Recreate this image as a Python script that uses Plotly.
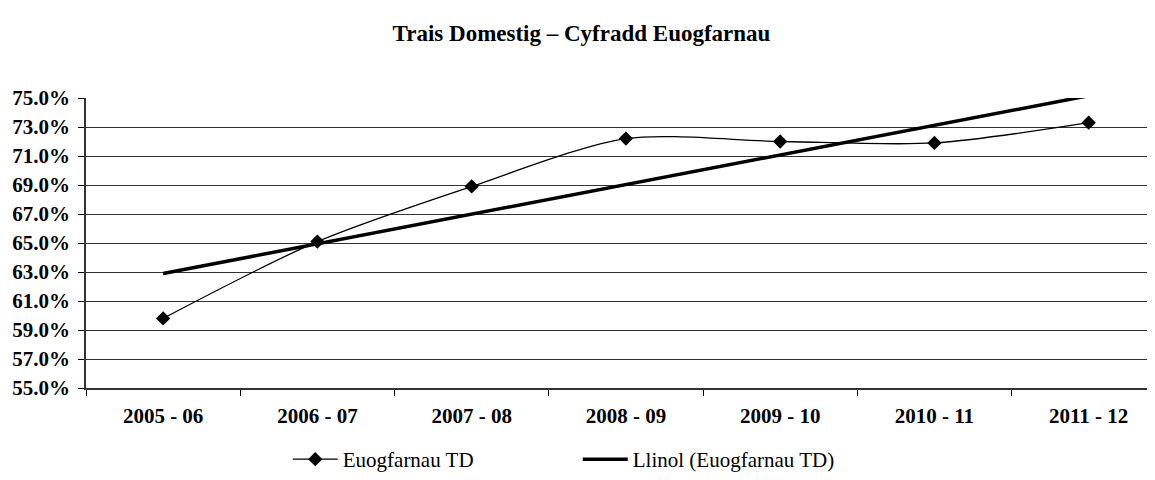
import numpy as np
import plotly.graph_objects as go

categories = ["2005 - 06", "2006 - 07", "2007 - 08", "2008 - 09", "2009 - 10", "2010 - 11", "2011 - 12"]
conviction_rate = [59.8, 65.1, 68.9, 72.2, 72.0, 71.9, 73.3]
y_ticks = [55, 57, 59, 61, 63, 65, 67, 69, 71, 73, 75]

xi = np.arange(len(categories))
slope, intercept = np.polyfit(xi, conviction_rate, 1)
trend = [float(slope * i + intercept) for i in xi]

FONT = "Liberation Serif, Times New Roman, serif"

fig = go.Figure()
fig.add_trace(go.Scatter(
    x=categories, y=conviction_rate, name="Euogfarnau TD",
    mode="lines+markers",
    line=dict(color="black", width=1.3, shape="spline", smoothing=0.8),
    marker=dict(symbol="diamond", size=11, color="black"),
    cliponaxis=False,
))
fig.add_trace(go.Scatter(
    x=categories, y=trend, name="Llinol (Euogfarnau TD)",
    mode="lines",
    line=dict(color="black", width=3.5),
    cliponaxis=False,
))

# the page body has an 8px margin, so the figure is drawn 8px right and down
fig.update_layout(
    width=1147, height=472,
    margin=dict(l=78, r=0, t=90, b=87),
    paper_bgcolor="white", plot_bgcolor="white",
    font=dict(family=FONT, color="black"),
    title=dict(text="Trais Domestig – Cyfradd Euogfarnau", x=0.5, xanchor="center",
               y=1 - 25 / 472, yanchor="middle",
               font=dict(family=FONT, size=23, weight="bold", color="black")),
    showlegend=True,
    legend=dict(orientation="h", x=0.46, xanchor="center", y=-0.247, yanchor="middle",
                font=dict(family=FONT, size=21, color="black"),
                entrywidth=230, entrywidthmode="pixels", itemwidth=45,
                bgcolor="rgba(0,0,0,0)"),
)
fig.update_xaxes(
    type="category", range=[-0.5, 6.43], automargin=False,
    tickson="boundaries", ticks="outside", ticklen=6, tickcolor="black",
    showline=True, linecolor="#333", linewidth=1.5,
    showgrid=False, zeroline=False,
    tickfont=dict(family=FONT, size=21, weight="bold", color="black"),
    ticklabelstandoff=8,
)
fig.update_yaxes(
    range=[55, 75], tickvals=y_ticks, ticktext=[f"{v:.1f}%" for v in y_ticks],
    automargin=False,
    ticks="outside", ticklen=6, tickcolor="black",
    showline=True, linecolor="#333", linewidth=1.5,
    showgrid=True, gridcolor="#333", gridwidth=1,
    zeroline=False,
    tickfont=dict(family=FONT, size=21, weight="bold", color="black"),
    ticklabelstandoff=4,
)

fig.write_html("out.html")
